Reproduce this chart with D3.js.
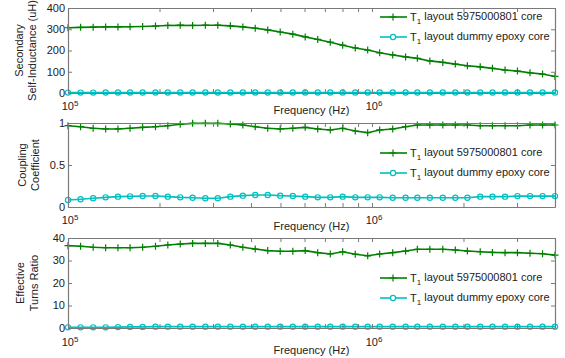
<!DOCTYPE html>
<html><head><meta charset="utf-8">
<script src="https://cdn.jsdelivr.net/npm/d3@7"></script>
<style>
body{margin:0;background:#fff;}
text{font-family:"Liberation Sans",Arial,sans-serif;}
</style></head>
<body><svg id="c" width="565" height="358"></svg>
<script>
// ---- data ----
const freq = [100e3,110e3,121e3,133e3,146e3,160e3,176e3,194e3,213e3,234e3,257e3,283e3,311e3,342e3,376e3,413e3,454e3,499e3,549e3,603e3,663e3,729e3,801e3,881e3,968e3,1.06e6,1.17e6,1.29e6,1.41e6,1.55e6,1.71e6,1.88e6,2.06e6,2.27e6,2.49e6,2.74e6,3.01e6,3.31e6,3.64e6,4.0e6];
const seriesNames = ["layout 5975000801 core","layout dummy epoxy core"];
const L2_ferrite = [307,309,310,311,311,312,313,315,318,319,318,319,319,316,311,305,297,287,277,264,252,239,225,212,202,189,179,170,163,151,144,136,128,123,116,108,103,95,89,78];
const L2_epoxy = [2.0,2.0,2.0,2.1,2.1,2.1,2.1,2.1,2.1,2.1,2.1,2.1,2.1,2.1,2.1,2.1,2.1,2.1,2.1,2.1,2.1,2.1,2.1,2.1,2.1,2.1,2.1,2.1,2.1,2.1,2.1,2.1,2.1,2.1,2.1,2.1,2.1,2.1,2.1,2.1];
const k_ferrite = [.968,.956,.937,.929,.929,.937,.948,.956,.968,.985,.996,.996,.996,.988,.976,.956,.937,.929,.937,.948,.929,.917,.937,.905,.885,.917,.929,.956,.976,.976,.976,.976,.976,.968,.968,.968,.968,.976,.976,.976];
const k_epoxy = [.083,.092,.104,.115,.123,.127,.131,.131,.123,.115,.111,.104,.104,.123,.135,.143,.143,.135,.131,.123,.115,.115,.123,.115,.115,.115,.111,.111,.111,.111,.111,.111,.111,.123,.123,.123,.13,.13,.13,.13];
const n_ferrite = [36.6,36.3,35.9,35.7,35.7,35.7,35.9,36.3,36.9,37.3,37.6,37.6,37.6,36.9,35.9,35.1,34.4,34.1,34.1,34.4,33.5,32.9,33.9,32.8,32.1,32.9,33.5,34.2,35.0,35.0,35.0,34.7,34.2,33.9,33.6,33.5,33.5,33.2,33.0,32.4];
const n_epoxy = [0.3,0.3,0.3,0.3,0.4,0.5,0.5,0.6,0.6,0.6,0.6,0.6,0.6,0.6,0.6,0.6,0.6,0.6,0.6,0.6,0.6,0.6,0.6,0.6,0.6,0.6,0.6,0.6,0.6,0.6,0.6,0.6,0.6,0.6,0.6,0.6,0.6,0.6,0.6,0.6];
const xMajor = [1e5,1e6];
const xMinor = [2e5,3e5,4e5,5e5,6e5,7e5,8e5,9e5,2e6,3e6,4e6];
const xLabel = "Frequency (Hz)";
const yTicks1 = [0,100,200,300,400];
const yTicks2 = [0,0.5,1];
const yTicks3 = [0,10,20,30,40];

// ---- layout ----
const X0 = 68, X1 = 555;
const GREEN = "#008000", CYAN = "#00c0c0", BOX = "#7a7a7a", TXT = "#222";
const svg = d3.select("#c");
const x = d3.scaleLog().domain([1e5,4e6]).range([X0,X1]);

const panels = [
  {top:8, bot:93, dom:[0,400], ticks:yTicks1, fmt:d=>d, a:L2_ferrite, b:L2_epoxy,
   ylab:["Secondary","Self-Inductance (uH)"], ylx:[19,32], tlOff:13, flOff:17, leg:[17,37]},
  {top:123, bot:207, dom:[0,1], ticks:yTicks2, fmt:d=>d, a:k_ferrite, b:k_epoxy,
   ylab:["Coupling","Coefficient"], ylx:[22,35], tlOff:13, flOff:19, leg:[153,173]},
  {top:238, bot:328, dom:[0,40], ticks:yTicks3, fmt:d=>d, a:n_ferrite, b:n_epoxy,
   ylab:["Effective","Turns Ratio"], ylx:[20,34], tlOff:14, flOff:22, leg:[278,298]}
];

panels.forEach(p=>{
  const y = d3.scaleLinear().domain(p.dom).range([p.bot,p.top]);
  const g = svg.append("g");
  // data lines
  const line = d3.line().x((d,i)=>x(freq[i])).y(d=>y(d));
  const clipId = "clip"+p.top;
  svg.append("clipPath").attr("id",clipId).append("rect")
    .attr("x",X0-6).attr("y",p.top-4).attr("width",X1-X0+12).attr("height",p.bot-p.top+8);
  const dg = g.append("g").attr("clip-path","url(#"+clipId+")");
  // epoxy (cyan)
  dg.append("path").attr("d",line(p.b)).attr("fill","none").attr("stroke",CYAN).attr("stroke-width",1.6);
  dg.selectAll("circle.m").data(p.b).enter().append("circle")
    .attr("cx",(d,i)=>x(freq[i])).attr("cy",d=>y(d)).attr("r",2.6)
    .attr("fill","none").attr("stroke",CYAN).attr("stroke-width",1.2);
  // ferrite (green)
  dg.append("path").attr("d",line(p.a)).attr("fill","none").attr("stroke",GREEN).attr("stroke-width",1.6);
  dg.selectAll("path.p").data(p.a).enter().append("path")
    .attr("d",(d,i)=>{const cx=x(freq[i]),cy=y(d);return `M${cx-3.5},${cy}H${cx+3.5}M${cx},${cy-3.5}V${cy+3.5}`;})
    .attr("stroke",GREEN).attr("stroke-width",1.2);

  // axes (ticks inside)
  const axB = d3.axisBottom(x).tickValues(xMajor.concat(xMinor)).tickSizeInner(-4).tickSizeOuter(0).tickFormat("");
  const axT = d3.axisTop(x).tickValues(xMajor.concat(xMinor)).tickSizeInner(-4).tickSizeOuter(0).tickFormat("");
  const axL = d3.axisLeft(y).tickValues(p.ticks).tickSizeInner(-4).tickSizeOuter(0).tickFormat("");
  const axR = d3.axisRight(y).tickValues(p.ticks).tickSizeInner(-4).tickSizeOuter(0).tickFormat("");
  [[axB,`translate(0,${p.bot})`],[axT,`translate(0,${p.top})`],[axL,`translate(${X0},0)`],[axR,`translate(${X1},0)`]].forEach(([ax,tr])=>{
    const a = g.append("g").attr("transform",tr).call(ax);
    a.selectAll("line").attr("stroke",BOX);
    a.select(".domain").attr("stroke",BOX).attr("stroke-width",1.2);
  });
  // y tick labels
  g.selectAll("text.yt").data(p.ticks).enter().append("text")
    .attr("x",X0-3).attr("y",d=>y(d)).attr("dy","0.35em").attr("text-anchor","end")
    .attr("font-size",11).attr("fill",TXT).text(p.fmt);
  // x tick labels 10^n
  xMajor.forEach(v=>{
    const t = g.append("text").attr("x",x(v)+2).attr("y",p.bot+p.tlOff).attr("dy","0.35em")
      .attr("text-anchor","middle").attr("font-size",11).attr("fill",TXT);
    t.append("tspan").text("10");
    t.append("tspan").attr("dy","-0.45em").attr("font-size",8).text(Math.round(Math.log10(v)));
  });
  // x label
  g.append("text").attr("x",(X0+X1)/2).attr("y",p.bot+p.flOff).attr("dy","0.35em")
    .attr("text-anchor","middle").attr("font-size",11).attr("fill",TXT).text(xLabel);
  // y label
  const cy = (p.top+p.bot)/2;
  p.ylab.forEach((s,j)=>{
    g.append("text").attr("transform",`translate(${p.ylx[j]},${cy}) rotate(-90)`)
      .attr("dy","0.35em").attr("text-anchor","middle").attr("font-size",11).attr("fill",TXT).text(s);
  });
  // legend
  const legCol = [GREEN,CYAN];
  p.leg.forEach((ly,j)=>{
    const lg = g.append("g");
    lg.append("line").attr("x1",380).attr("x2",407).attr("y1",ly).attr("y2",ly)
      .attr("stroke",legCol[j]).attr("stroke-width",1.6);
    if(j===0){
      lg.append("path").attr("d",`M389.5,${ly}H396.5M393,${ly-3.5}V${ly+3.5}`).attr("stroke",GREEN).attr("stroke-width",1.2);
    } else {
      lg.append("circle").attr("cx",393).attr("cy",ly).attr("r",2.6).attr("fill","#fff").attr("stroke",CYAN).attr("stroke-width",1.2);
    }
    const t = lg.append("text").attr("x",410).attr("y",ly).attr("dy","0.35em").attr("font-size",11).attr("fill",TXT);
    t.append("tspan").text("T");
    t.append("tspan").attr("dy","0.35em").attr("font-size",8).text("1");
    t.append("tspan").attr("dy","-0.35em").text(" " + seriesNames[j]);
  });
});
</script></body></html>
